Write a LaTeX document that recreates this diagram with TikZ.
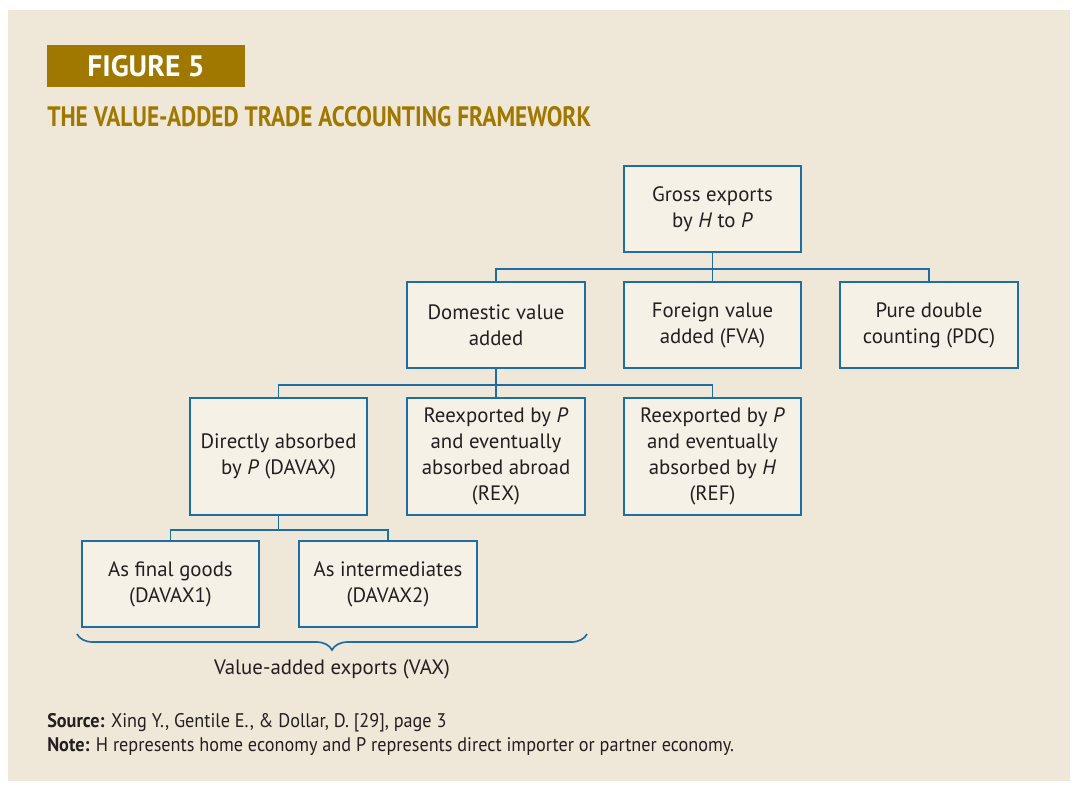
\documentclass[tikz,border=0pt]{standalone}
\usepackage{fontspec}
\setmainfont{PT Sans}
\newfontfamily\condfont[FakeStretch=0.83]{PT Sans}
\newfontfamily\notefont[FakeStretch=0.925]{PT Sans}
\usetikzlibrary{positioning,decorations.pathreplacing}
\definecolor{panel}{HTML}{EFE7D8}
\definecolor{boxfill}{HTML}{F5F1E7}
\definecolor{boxline}{HTML}{1E6DA5}
\definecolor{gold}{HTML}{A07800}
\definecolor{ink}{HTML}{231F20}
\tikzset{
  box/.style={
    draw=boxline,
    line width=1.4pt,
    fill=boxfill,
    align=center,
    text=ink,
    font=\fontsize{14.8}{18.6}\selectfont,
    minimum width=4.43cm,
    minimum height=2.15cm,
    inner sep=2pt
  },
  tallbox/.style={box, minimum height=2.93cm},
  link/.style={draw=boxline, line width=1.4pt},
  figlabel/.style={fill=gold, text=white, font=\fontsize{21}{24}\selectfont\bfseries,
    minimum width=4.95cm, minimum height=1.05cm, inner sep=0pt},
  title/.style={text=gold, font=\fontsize{20}{24}\selectfont\condfont\bfseries, anchor=base west, inner sep=0pt},
  note/.style={text=ink, font=\fontsize{14}{16}\selectfont\notefont, anchor=base west, inner sep=0pt},
  bracelabel/.style={text=ink, font=\fontsize{14.8}{18.6}\selectfont, anchor=base, inner sep=0pt}
}

\begin{document}
\begin{tikzpicture}[x=0.025cm,y=-0.025cm]
\useasboundingbox (0,0) rectangle (1077,789);
\fill[white] (0,0) rectangle (1077,789);
\fill[panel] (8,10) rectangle (1070,781);

% heading
\node[figlabel] (fig) at (146,66) {FIGURE 5};
\node[title] (title) at (47,126) {THE VALUE-ADDED TRADE ACCOUNTING FRAMEWORK};

% first level
\node[box] (gross) at (712.5,209) {Gross exports\\by \textit{H} to \textit{P}};
\node[box] (dva) at (496,325) {Domestic value\\added};
\node[box] (fva) at (712.5,325) {Foreign value\\added (FVA)};
\node[box] (pdc) at (929,325) {Pure double\\counting (PDC)};

% second level
\node[tallbox] (davax) at (278.5,456.5) {Directly absorbed\\by \textit{P} (DAVAX)};
\node[tallbox] (rex) at (496,456.5) {Reexported by \textit{P}\\and eventually\\absorbed abroad\\(REX)};
\node[tallbox] (ref) at (712.5,456.5) {Reexported by \textit{P}\\and eventually\\absorbed by \textit{H}\\(REF)};

% third level
\node[box] (final) at (170.5,584) {As final goods\\(DAVAX1)};
\node[box] (inter) at (388,584) {As intermediates\\(DAVAX2)};

% tree links
\draw[link] (gross.south) -- (fva.north);
\draw[link] (gross.south) -- ++(0,16) -| (dva.north);
\draw[link] (gross.south) -- ++(0,16) -| (pdc.north);
\draw[link] (dva.south) -- (rex.north);
\draw[link] (dva.south) -- ++(0,16) -| (davax.north);
\draw[link] (dva.south) -- ++(0,16) -| (ref.north);
\draw[link] (davax.south) -- ++(0,14) -| (final.north);
\draw[link] (davax.south) -- ++(0,14) -| (inter.north);

% VAX brace
\coordinate (braceL) at (77,634);
\coordinate (braceR) at (587,634);
\draw[link, line width=1.2pt, decorate, decoration={brace, mirror, amplitude=0.4cm}] (braceL) -- (braceR);
\node[bracelabel] (vax) at (332,674) {Value-added exports (VAX)};

% source and note
\node[note] (source) at (47,727) {\textbf{Source:} Xing Y., Gentile E., \& Dollar, D. [29], page 3};
\node[note] (note) at (47,751) {\textbf{Note:} H represents home economy and P represents direct importer or partner economy.};

\end{tikzpicture}
\end{document}
